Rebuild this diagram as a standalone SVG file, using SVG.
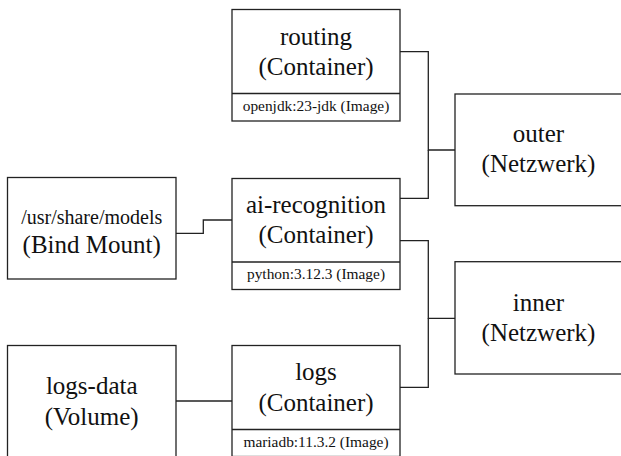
<svg xmlns="http://www.w3.org/2000/svg" width="621" height="456" viewBox="0 0 621 456">
  <style>
    .box { fill: #ffffff; stroke: #222222; stroke-width: 1.3; }
    .div { stroke: #222222; stroke-width: 1.3; }
    .link { fill: none; stroke: #222222; stroke-width: 1.3; }
    text { font-family: "Liberation Serif", "Times New Roman", serif; fill: #111111; text-anchor: middle; }
    .main { font-size: 25px; }
    .path { font-size: 20px; }
    .img { font-size: 15.4px; }
  </style>
  <rect width="621" height="456" fill="#ffffff"/>

  <!-- connectors -->
  <g id="connectors">
    <polyline class="link" points="400,51.7 428.3,51.7 428.3,150 455,150"/>
    <polyline class="link" points="400,198.3 428.3,198.3 428.3,150"/>
    <polyline class="link" points="400,240.7 428.3,240.7 428.3,318.3 455,318.3"/>
    <polyline class="link" points="400,387.3 428.3,387.3 428.3,318.3"/>
    <polyline class="link" points="176,233.3 203.3,233.3 203.3,220 232,220"/>
    <polyline class="link" points="176,401 232,401"/>
  </g>

  <!-- containers -->
  <g id="routing">
    <rect class="box" x="232" y="9.5" width="168" height="111.5"/>
    <line class="div" x1="232" y1="93.5" x2="400" y2="93.5"/>
    <text class="main" x="316" y="45">routing</text>
    <text class="main" x="316" y="75">(Container)</text>
    <text class="img" x="316" y="110.5">openjdk:23-jdk (Image)</text>
  </g>

  <g id="ai-recognition">
    <rect class="box" x="232" y="178.5" width="168" height="111"/>
    <line class="div" x1="232" y1="262" x2="400" y2="262"/>
    <text class="main" x="316" y="212.5">ai-recognition</text>
    <text class="main" x="316" y="243">(Container)</text>
    <text class="img" x="316" y="279">python:3.12.3 (Image)</text>
  </g>

  <g id="logs">
    <rect class="box" x="232" y="345.5" width="168" height="111"/>
    <line class="div" x1="232" y1="429.5" x2="400" y2="429.5"/>
    <text class="main" x="316" y="379.5">logs</text>
    <text class="main" x="316" y="411">(Container)</text>
    <text class="img" x="316" y="446.5">mariadb:11.3.2 (Image)</text>
  </g>

  <!-- mounts -->
  <g id="bind-mount">
    <rect class="box" x="7.5" y="177.5" width="168.5" height="101.5"/>
    <text class="path" x="91.7" y="224">/usr/share/models</text>
    <text class="main" x="91.7" y="252.5">(Bind Mount)</text>
  </g>

  <g id="logs-data">
    <rect class="box" x="7.5" y="345.5" width="168.5" height="115"/>
    <text class="main" x="91.7" y="394">logs-data</text>
    <text class="main" x="91.7" y="424.5">(Volume)</text>
  </g>

  <!-- networks -->
  <g id="outer">
    <rect class="box" x="455" y="94" width="168" height="111.7"/>
    <text class="main" x="538.5" y="141.5">outer</text>
    <text class="main" x="538.5" y="172">(Netzwerk)</text>
  </g>

  <g id="inner">
    <rect class="box" x="455" y="261.7" width="168" height="112.3"/>
    <text class="main" x="538.5" y="310.5">inner</text>
    <text class="main" x="538.5" y="341">(Netzwerk)</text>
  </g>
</svg>
